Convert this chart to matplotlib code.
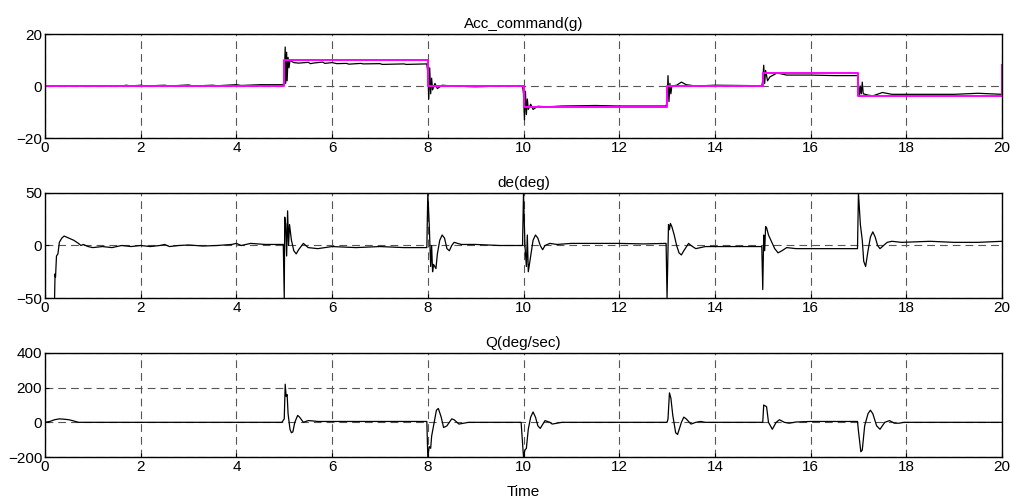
import matplotlib
matplotlib.use("Agg")
import matplotlib.pyplot as plt

plt.rcParams['font.family'] = ['Liberation Sans', 'DejaVu Sans']

# ---------------- data ----------------
# command steps (breakpoints and levels, steps-post)
cmd_t = [0, 5, 8, 10, 13, 15, 17, 20]
cmd_v = [0, 10, 0, -8, 0, 5, -4, 8]

acc_t = [0, 1.6, 1.7, 1.8, 2.0, 2.1, 2.5, 2.6, 3.0, 3.1, 3.5, 3.6, 4.0, 4.1, 4.5, 4.9, 4.98,
         5.0, 5.02, 5.03, 5.05, 5.06, 5.08, 5.1, 5.12, 5.15, 5.2, 5.3, 5.5, 5.55, 5.6, 5.8, 5.85,
         6.0, 6.1, 6.3, 6.35, 6.6, 6.65, 7.0, 7.05, 7.5, 7.55, 7.98,
         8.0, 8.02, 8.04, 8.06, 8.08, 8.1, 8.15, 8.2, 8.3, 8.5, 9.0, 9.5, 9.98,
         10.0, 10.02, 10.04, 10.06, 10.08, 10.1, 10.15, 10.2, 10.3, 10.5, 10.8, 11.2, 11.5, 12.0, 12.98,
         13.0, 13.02, 13.04, 13.06, 13.08, 13.1, 13.2, 13.3, 13.4, 13.6, 14.0, 14.5, 14.98,
         15.0, 15.02, 15.04, 15.06, 15.1, 15.15, 15.3, 15.5, 16.0, 16.5, 16.98,
         17.0, 17.02, 17.04, 17.06, 17.08, 17.1, 17.2, 17.3, 17.5, 17.7, 18.0, 19.0, 19.5, 20.0]
acc_v = [0, 0, 0.3, 0, 0.3, 0, 0.3, 0, 0.4, 0, 0.3, 0.1, 0.5, 0.2, 0.5, 0.5, 0.5,
         3, 15, 1, 13, 2, 11, 7, 10, 9.5, 9, 8.8, 9.1, 8.6, 8.8, 9.2, 8.7,
         9, 8.6, 8.7, 8.4, 8.7, 8.5, 8.6, 8.3, 8.5, 8.3, 8.5,
         5, -5, 7, -3, 3, -1.5, 1, -1, 0.3, 0, -0.3, 0, 0.1,
         -3, -13, -2, -11, -5, -9, -7, -9, -7.8, -8, -7.7, -7.6, -7.5, -7.7, -7.7,
         -6, 4, -6, 1, -3, 0, 0.3, 1.5, 0.5, 0, 0.3, 0.2, 0.1,
         2, 8, 1, 6, 2, 3.5, 5, 4.2, 4.2, 4.0, 4.0,
         1, -4, 0, -3, 1.5, -3, -3.5, -3.8, -2.5, -3.2, -3.2, -3.2, -2.8, -3.2]

de_t = [0.2, 0.21, 0.22, 0.24, 0.27, 0.3, 0.35, 0.4, 0.45, 0.5, 0.6, 0.7, 0.75, 0.8, 0.9, 1.0,
        1.2, 1.4, 1.6, 1.8, 2.0, 2.2, 2.4, 2.5, 2.6, 2.8, 3.0, 3.3, 3.6, 3.9, 4.0, 4.1, 4.3, 4.6, 4.98,
        5.0, 5.01, 5.03, 5.05, 5.07, 5.09, 5.11, 5.15, 5.2, 5.25, 5.3, 5.4, 5.5, 5.7, 6.0, 6.5, 7.0,
        7.5, 7.98,
        8.0, 8.03, 8.06, 8.08, 8.1, 8.12, 8.17, 8.2, 8.25, 8.3, 8.35, 8.4, 8.45, 8.5, 8.55, 8.7,
        9.0, 9.5, 9.98,
        10.0, 10.03, 10.06, 10.08, 10.1, 10.15, 10.2, 10.25, 10.3, 10.35, 10.4, 10.45, 10.55, 10.7,
        11.0, 11.5, 12.0, 12.5, 12.98,
        13.0, 13.03, 13.05, 13.07, 13.1, 13.15, 13.2, 13.25, 13.3, 13.35, 13.45, 13.5, 13.6, 13.8,
        14.0, 14.5, 14.98,
        15.0, 15.02, 15.04, 15.06, 15.08, 15.12, 15.2, 15.25, 15.32, 15.4, 15.5, 15.7, 16.0, 16.5,
        16.98,
        17.0, 17.04, 17.08, 17.11, 17.15, 17.2, 17.25, 17.3, 17.35, 17.4, 17.45, 17.5, 17.6, 17.7,
        17.9, 18.5, 19.0, 19.5, 20.0]
de_v = [-50, -27, -30, -10, -8, 3, 7, 9, 8, 7, 5, 2, 0, 1, -1, -2,
        -1, -2, 0, -1, 0, -1, 0, 1, -1, 0, 0.5, -0.5, 0, 1, 2, 0, 2, 1, 1,
        -50, 27, 20, -10, 33, 0, 20, 5, -5, -8, -4, 2, -2, -3, -1, -2, -1,
        -2, -2,
        50, 20, -20, 0, -25, -18, -22, -8, 5, 10, 7, -3, -5, 0, 3, 1,
        1, 0, 0,
        50, 0, -20, 10, -25, -10, 5, 10, 7, 0, -4, 0, 2, 1,
        2, 2, 2, 1.5, 2,
        -50, 20, 15, 21, 18, 10, 0, -7, -9, -5, 2, 0, -3, -1,
        -1, -1, -1,
        -42, 10, -5, 18, 17, 10, 2, -3, -7, -5, -2, -3, -3, -3,
        -3,
        50, 20, 5, -15, -20, -5, 8, 13, 8, 0, -3, -1, 3, 4,
        3, 4, 3, 3, 4]

q_t = [0, 0.1, 0.2, 0.3, 0.4, 0.5, 0.6, 0.7, 1.0, 4.95,
       5.0, 5.02, 5.04, 5.06, 5.08, 5.12, 5.15, 5.18, 5.22, 5.28, 5.32, 5.4, 5.5, 5.6, 5.7, 6.0,
       7.0, 7.98,
       8.0, 8.03, 8.06, 8.08, 8.12, 8.18, 8.22, 8.28, 8.33, 8.4, 8.5, 8.55, 8.65, 8.75, 8.85, 9.0,
       9.95,
       10.0, 10.03, 10.06, 10.1, 10.15, 10.2, 10.25, 10.3, 10.35, 10.45, 10.55, 10.6, 10.7, 10.8,
       13.0,
       13.02, 13.05, 13.08, 13.12, 13.18, 13.22, 13.3, 13.35, 13.4, 13.5, 13.6, 13.7, 13.8, 14.98,
       15.0, 15.02, 15.08, 15.12, 15.2, 15.28, 15.35, 15.45, 15.55, 15.7, 16.0, 16.98,
       17.0, 17.05, 17.08, 17.13, 17.2, 17.25, 17.3, 17.38, 17.45, 17.55, 17.65, 17.75, 17.85,
       17.95, 20.0]
q_v = [0, 5, 15, 20, 18, 15, 8, 0, 0, 0,
       20, 220, 150, 160, 50, -40, -60, -55, 0, 40, 30, 0, 10, 8, 5, 5,
       5, 5,
       -200, -140, -150, -80, -20, 70, 80, 30, -30, -20, 20, 15, -10, -5, 0, 0,
       0,
       -200, -160, -150, -40, 30, 60, 30, -20, -35, 10, 0, -10, -5, 0,
       0,
       20, 170, 140, 40, -60, -70, 0, 30, 20, -10, 0, 5, 0, 0,
       0, 100, 90, 0, -40, 0, 15, 0, -5, 2, 5, 5,
       -50, -170, -160, -20, 50, 70, 50, -20, -40, 0, 10, -5, -5,
       0, 0]

titles = ["Acc_command(g)", "de(deg)", "Q(deg/sec)"]
yticks = [[-20, 0, 20], [-50, 0, 50], [-200, 0, 200, 400]]
ylims = [(-20, 20), (-50, 50), (-200, 400)]
xticks = list(range(0, 21, 2))

# ---------------- figure ----------------
fig = plt.figure(figsize=(10.10, 4.98), dpi=100)
left = 45 / 1010
width = (1002 - 45) / 1010
tops = [34, 193, 353]
bots = [138, 298, 457]

axes = []
for i in range(3):
    b = 1 - bots[i] / 498
    h = (bots[i] - tops[i]) / 498
    ax = fig.add_axes([left, b, width, h])
    axes.append(ax)

FS = 11
series = [(acc_t, acc_v), (de_t, de_v), (q_t, q_v)]
for i, ax in enumerate(axes):
    t, v = series[i]
    ax.plot(t, v, color='black', lw=0.9, zorder=3)
    if i == 0:
        ax.plot(cmd_t, cmd_v, color='#ff00ff', lw=1.4, drawstyle='steps-post', zorder=4)
    ax.set_xlim(0, 20)
    ax.set_ylim(*ylims[i])
    ax.set_xticks(xticks)
    ax.set_yticks(yticks[i])
    ax.set_title(titles[i], fontsize=FS, pad=4)
    ax.grid(True, color='#555555', linestyle=(0, (7, 4.5)), lw=0.8)
    ax.tick_params(direction='in', length=3, labelsize=FS, pad=2, width=0.8)
    for s in ax.spines.values():
        s.set_linewidth(1.0)
        s.set_zorder(5)

axes[2].set_xlabel("Time", fontsize=FS, labelpad=8)

fig.savefig("out.png", dpi=100)
